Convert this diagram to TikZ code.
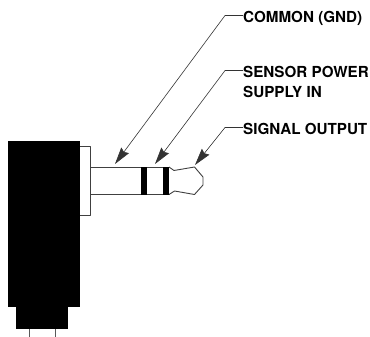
\documentclass[tikz,border=0pt]{standalone}
\usepackage{fontspec}
\setmainfont{TeX Gyre Heros}
\usetikzlibrary{arrows.meta}
\begin{document}
\begin{tikzpicture}[x=1pt,y=-1pt,
  outline/.style={draw=black!75,line width=0.9pt,line join=round},
  solid black/.style={fill=black,draw=none},
  leader/.style={draw=black!80,line width=0.6pt,-{Stealth[length=17pt,width=9.5pt,inset=2pt]}},
  callout/.style={anchor=base west,inner sep=0pt,font=\fontsize{15.2}{15.2}\selectfont\bfseries,text=black}]
\useasboundingbox (0,0) rectangle (370,337);
% pins
\draw[outline,draw=black!65] (29,329) -- (29,337);
\draw[outline,draw=black!65] (55,329) -- (55,337);
% body
\fill[solid black] (8,141) rectangle (80,306.5);
\fill[solid black] (16,306) rectangle (68,329);
% flange
\draw[outline] (80,146.5) -- (90,146.5) -- (90,215.5) -- (80,215.5);
% barrel
\draw[outline] (90,167) -- (170,167);
\draw[outline] (90,194.5) -- (170,194.5);
% tip
\draw[outline] (169,167) -- (174,170.5) -- (194.5,167) -- (203,177) -- (203,185) -- (194.5,194.5) -- (174.5,191) -- (169,194.5);
% bands
\fill[solid black] (140.5,167) rectangle (146.5,195);
\fill[solid black] (162.5,167) rectangle (169,195);
% labels
\node[callout] (common) at (243,23) {COMMON (GND)};
\node[callout] (sensor) at (243,78) {SENSOR POWER};
\node[callout] (supply) at (243,98) {SUPPLY IN};
\node[callout] (signal) at (243,135) {SIGNAL OUTPUT};
% leaders
\coordinate (a1) at (225,15.5); \coordinate (t1) at (115,164);
\coordinate (a2) at (225,70.5); \coordinate (t2) at (155,164);
\coordinate (a3) at (225,127.5); \coordinate (t3) at (195,165);
\draw[leader] (common.west |- a1) -- (a1) -- (t1);
\draw[leader] (sensor.west |- a2) -- (a2) -- (t2);
\draw[leader] (signal.west |- a3) -- (a3) -- (t3);
\end{tikzpicture}
\end{document}
